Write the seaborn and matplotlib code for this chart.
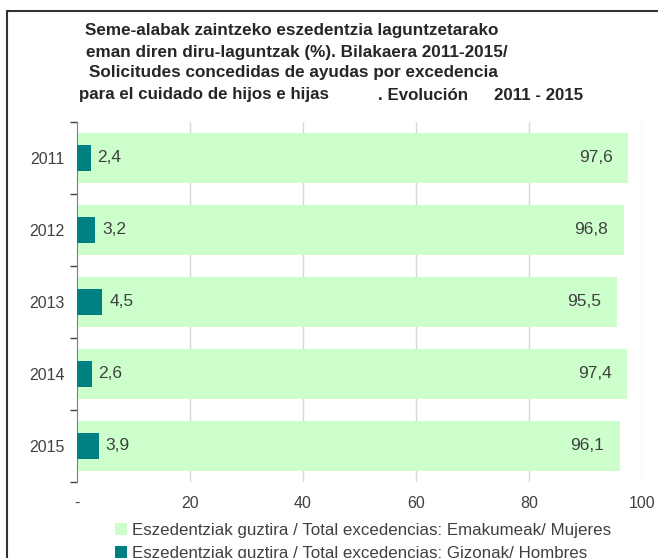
import matplotlib
matplotlib.use("Agg")
import matplotlib.pyplot as plt
import seaborn as sns
import pandas as pd
from matplotlib.patches import Rectangle, Patch

years = ["2011", "2012", "2013", "2014", "2015"]
mujeres = [97.6, 96.8, 95.5, 97.4, 96.1]
hombres = [2.4, 3.2, 4.5, 2.6, 3.9]
x_ticks = [0, 20, 40, 60, 80, 100]
x_labels = ["-", "20", "40", "60", "80", "100"]
title_lines = [
    "Seme-alabak zaintzeko eszedentzia laguntzetarako",
    "eman diren diru-laguntzak (%). Bilakaera 2011-2015/",
    "Solicitudes concedidas de ayudas por excedencia",
]
title_last = ["para el cuidado de hijos e hijas", ". Evolución", "2011 - 2015"]
legend_labels = [
    "Eszedentziak guztira / Total excedencias: Emakumeak/ Mujeres",
    "Eszedentziak guztira / Total excedencias: Gizonak/ Hombres",
]

df = pd.DataFrame({"year": years, "mujeres": mujeres, "hombres": hombres})

sns.set_style("white")
plt.rcParams["font.family"] = ["Liberation Sans", "DejaVu Sans"]
text_col = "#404040"
green = "#CCFFCC"
teal = "#008080"

fig = plt.figure(figsize=(6.58, 5.58), dpi=100)
ax = fig.add_axes([77 / 658, 1 - 482 / 558, 565 / 658, 360 / 558])

sns.barplot(data=df, y="year", x="mujeres", color=green, width=0.69,
            saturation=1, orient="h", ax=ax, zorder=2, linewidth=0)
sns.barplot(data=df, y="year", x="hombres", color=teal, width=0.36,
            saturation=1, orient="h", ax=ax, zorder=3, linewidth=0)

ax.set_xlim(0, 100)
ax.set_ylim(4.5, -0.5)
ax.set_xticks(x_ticks)
ax.set_xticklabels(x_labels, fontsize=11.5, color=text_col)
ax.tick_params(axis="x", length=0, pad=10)
ax.tick_params(axis="y", which="major", length=0, labelsize=11.5,
               labelcolor=text_col, pad=9)
ax.set_yticks([i - 0.5 for i in range(6)], minor=True)
ax.tick_params(axis="y", which="minor", left=True, length=5,
               color="#404040", width=1)
ax.set_xlabel("")
ax.set_ylabel("")
ax.grid(axis="x", color="#D9D9D9", linewidth=1, zorder=0)
ax.set_axisbelow(True)
for s in ["top", "right", "bottom"]:
    ax.spines[s].set_visible(False)
ax.spines["left"].set_color("#808080")

for i, (m, h) in enumerate(zip(mujeres, hombres)):
    ax.text(m - 2.8, i, f"{m:.1f}".replace(".", ","), ha="right", va="center",
            fontsize=12.5, color=text_col, zorder=4)
    ax.text(h + 1.2, i, f"{h:.1f}".replace(".", ","), ha="left", va="center",
            fontsize=12.5, color=text_col, zorder=4)

title_x = [85, 86, 89]
title_y = [31, 52, 73]
for t, xx, yy in zip(title_lines, title_x, title_y):
    fig.text(xx / 658, 1 - yy / 558, t, ha="left", va="center",
             fontsize=12.35, fontweight="bold", color="#262626")
for t, xx in zip(title_last, [79, 378, 494]):
    fig.text(xx / 658, 1 - 95 / 558, t, ha="left", va="center",
             fontsize=12.2, fontweight="bold", color="#262626")

handles = [Patch(facecolor=green, edgecolor="none"),
           Patch(facecolor=teal, edgecolor="none")]
fig.legend(handles, legend_labels, loc="upper left",
           bbox_to_anchor=(100 / 658, 1 - 508 / 558), frameon=False,
           fontsize=12.2, handlelength=0.7, handleheight=0.7,
           handletextpad=0.3, labelspacing=0.45, labelcolor=text_col)

fig.patches.append(Rectangle((7 / 658, -0.1), 1.2, 1 - 11 / 558 + 0.1,
                             transform=fig.transFigure, fill=False,
                             edgecolor="#333333", linewidth=1.5))

fig.savefig("out.png", dpi=100)
